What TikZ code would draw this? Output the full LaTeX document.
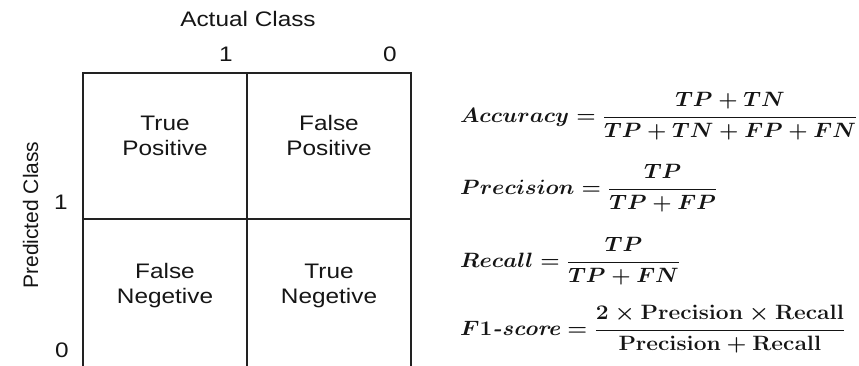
\documentclass[tikz,border=0pt]{standalone}
\usepackage{fontspec}
\usepackage{amsmath}
\usepackage{graphicx}
\newfontfamily\diagsans[FakeStretch=1.16]{Liberation Sans}
\newfontfamily\diagsansplain{Liberation Sans}
\newcommand{\fitw}[2]{\resizebox{#1}{\height}{#2}}
\definecolor{ink}{HTML}{151515}
\definecolor{gridc}{HTML}{222222}
\tikzset{
  lbl/.style={inner sep=0pt, anchor=base, font=\diagsans\fontsize{21}{25}\selectfont, text=ink},
  cell/.style={lbl},
  formula/.style={inner sep=0pt, anchor=base west, font=\fontsize{21}{25}\selectfont\boldmath, text=ink},
  grid/.style={line width=1.6pt, draw=gridc}
}
\begin{document}
\begin{tikzpicture}[x=1pt,y=-1pt]
\useasboundingbox (0,0) rectangle (859,366);
% matrix lines
\coordinate (tl) at (83,73);
\coordinate (tr) at (411,73);
\coordinate (tm) at (247,73);
\coordinate (bl) at (83,367);
\coordinate (br) at (411,367);
\coordinate (bm) at (247,367);
\coordinate (ml) at (83,219);
\coordinate (mr) at (411,219);
\draw[grid] (bl) -- (tl) -- (tr) -- (br);
\draw[grid] (tm) -- (bm);
\draw[grid] (ml) -- (mr);
% labels
\node[lbl] (actual) at (248,27) {Actual Class};
\node[lbl] (a1) at (226,62) {1};
\node[lbl] (a0) at (390,62) {0};
\node[lbl, rotate=90, font=\diagsansplain\fontsize{21}{25}\selectfont] (pred) at (38,215) {Predicted Class};
\node[lbl] (p1) at (61,210) {1};
\node[lbl] (p0) at (62,357) {0};
% cells
\node[cell] (tp) at (165,156) {\begin{tabular}[b]{@{}c@{}}True\\Positive\end{tabular}};
\node[cell] (fp) at (329,156) {\begin{tabular}[b]{@{}c@{}}False\\Positive\end{tabular}};
\node[cell] (fn) at (165,303) {\begin{tabular}[b]{@{}c@{}}False\\Negetive\end{tabular}};
\node[cell] (tn) at (329,303) {\begin{tabular}[b]{@{}c@{}}True\\Negetive\end{tabular}};
% formulas
\node[formula] (acc) at (460,122.3) {\fitw{397pt}{$\displaystyle Accuracy=\frac{TP+TN}{TP+TN+FP+FN}$}};
\node[formula] (prec) at (460,194.3) {\fitw{257pt}{$\displaystyle Precision=\frac{TP}{TP+FP}$}};
\node[formula] (rec) at (460,267.3) {\fitw{220pt}{$\displaystyle Recall=\frac{TP}{TP+FN}$}};
\node[formula] (f1) at (460,335.3) {\fitw{385pt}{$\displaystyle F1\textbf{\itshape -score}=\frac{2\times\mathbf{Precision}\times\mathbf{Recall}}{\mathbf{Precision}+\mathbf{Recall}}$}};
\end{tikzpicture}
\end{document}
